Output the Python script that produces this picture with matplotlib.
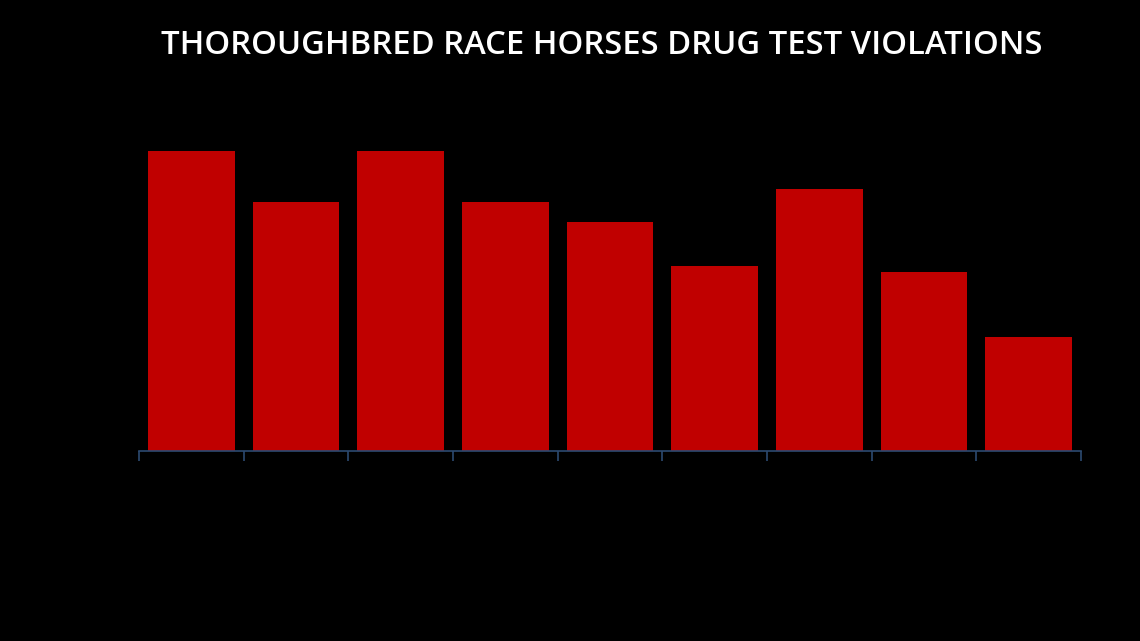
import numpy as np
import matplotlib
matplotlib.use("Agg")
from matplotlib import pyplot as plt

# bar heights (no value labels shown)
categories = ["1", "2", "3", "4", "5", "6", "7", "8", "9"]
values = [300, 249, 300, 249, 229, 185, 262, 179, 114]

title = "THOROUGHBRED RACE HORSES DRUG TEST VIOLATIONS"
bar_color = "#c00000"
axis_color = "#2c4a70"

fig = plt.figure(figsize=(11.4, 6.41), dpi=100, facecolor="black")
ax = fig.add_axes([139/1140, 190/641, 942/1140, 350/641])
ax.set_facecolor("black")

x = np.arange(len(categories))
ax.bar(x, values, width=0.83, color=bar_color)

ax.set_xlim(-0.5, len(categories) - 0.5)
ax.set_ylim(0, 350)
ax.set_xticks(np.arange(len(categories) + 1) - 0.5)
ax.set_xticklabels([])
ax.tick_params(axis="x", direction="out", length=7.5, width=1.2, color=axis_color)
ax.set_yticks([])
for s in ["top", "right", "left"]:
    ax.spines[s].set_visible(False)
ax.spines["bottom"].set_color(axis_color)
ax.spines["bottom"].set_linewidth(1.2)

fig.text(602/1140, 1 - 45/641, title, color="white", fontsize=23.6,
         fontfamily="Open Sans", fontweight="semibold", ha="center", va="center")

fig.savefig("out.png", dpi=100, facecolor="black")
